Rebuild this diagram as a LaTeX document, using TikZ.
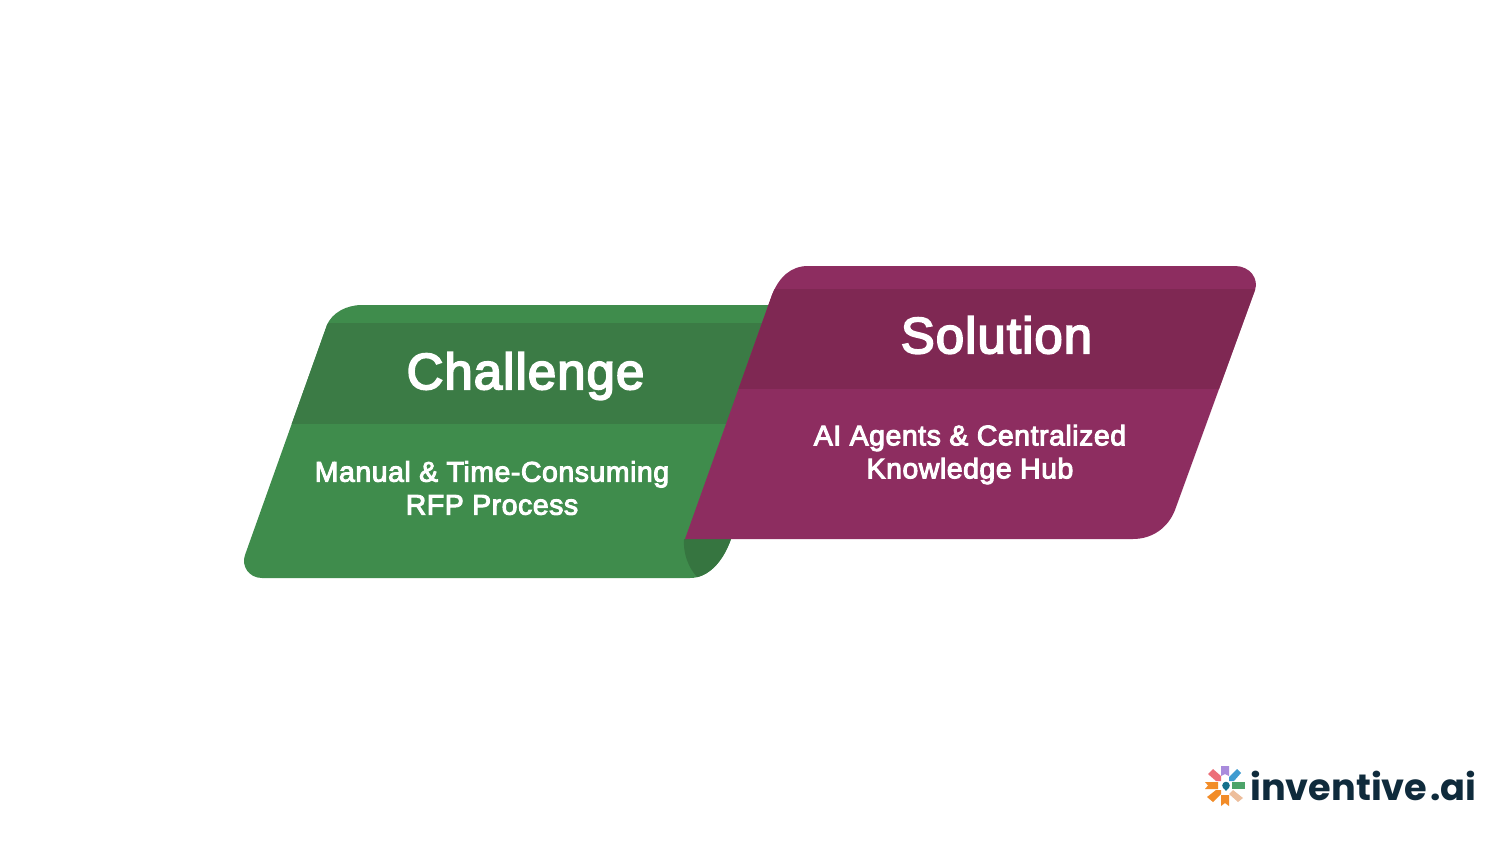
\documentclass[tikz,border=0pt]{standalone}
\usepackage{fontspec}
\setmainfont{Liberation Sans}[FakeBold=3.5,LetterSpace=2]
\newfontfamily\logofont{Poppins}[UprightFont=* SemiBold, BoldFont=* Bold]
\definecolor{gmain}{HTML}{3F8C4C}
\definecolor{gband}{HTML}{3B7B45}
\definecolor{gfold}{HTML}{367540}
\definecolor{pmain}{HTML}{8D2D60}
\definecolor{pband}{HTML}{7F2853}
\definecolor{lnavy}{HTML}{0F2B3C}
\definecolor{lpurple}{HTML}{A98BDC}
\definecolor{lpink}{HTML}{EC6F78}
\definecolor{lblue}{HTML}{3E9BD0}
\definecolor{lorange}{HTML}{F28C28}
\definecolor{lgreen}{HTML}{4CA46A}
\definecolor{lpeach}{HTML}{EDBE9C}
\definecolor{lteal}{HTML}{14708C}
\tikzset{
  x=1pt,y=-1pt,
  title/.style={text=white,font=\fontsize{51}{50}\selectfont,anchor=center,inner sep=0pt},
  body/.style={text=white,font=\fontsize{28.4}{33}\selectfont,anchor=center,align=center,inner sep=0pt},
}
\newcommand{\greenpath}{(362,305) -- (800,305) -- (731,539) .. controls (723,562) and (708,578) .. (690,578) -- (262,578) .. controls (249,578) and (241,566) .. (245,555) -- (327,325) .. controls (332,313) and (346,305) .. (362,305) -- cycle}
\newcommand{\purplepath}{(808,266) -- (1235,266) .. controls (1250,266) and (1259,279) .. (1255,290) -- (1175,510) .. controls (1168,528) and (1152,539) .. (1133,539) -- (685,539) -- (772,295) .. controls (779,277) and (791,266) .. (808,266) -- cycle}
\begin{document}
\begin{tikzpicture}
\useasboundingbox (0,0) rectangle (1500,844);
\fill[white] (0,0) rectangle (1500,844);
% green ribbon
\fill[gmain] \greenpath;
\begin{scope}
  \clip \greenpath;
  \fill[gband] (200,323) rectangle (800,424);
  \fill[gfold] (684,539) .. controls (683,553) and (688,567) .. (697,577) -- (740,590) -- (740,539) -- cycle;
\end{scope}
% purple ribbon
\fill[pmain] \purplepath;
\begin{scope}
  \clip \purplepath;
  \fill[pband] (700,289) rectangle (1300,389);
\end{scope}
\node[title] (challenge) at (525.5,376) {Challenge};
\node[body] (challengetext) at (492,488) {Manual \& Time-Consuming\\RFP Process};
\node[title] (solution) at (996.5,335) {Solution};
\node[body] (solutiontext) at (970,454.5) {AI Agents \& Centralized\\Knowledge Hub};
% logo
\fill[lpurple] (1221,766) -- (1229,766) -- (1229,776) -- (1225,774) -- (1221,776) -- cycle;
\fill[lpink] (1208,774) -- (1213,769) -- (1221,776) -- (1221,781) -- (1216,781) -- cycle;
\fill[lblue] (1229,777) -- (1237,769) -- (1241,773) -- (1234,781) -- (1229,781) -- cycle;
\fill[lorange] (1205,782) -- (1218,782) -- (1218,789) -- (1205,789) -- (1208,785.5) -- cycle;
\fill[lgreen] (1232,782) rectangle (1245,789);
\fill[lorange] (1207,797) -- (1216,790) -- (1221,790) -- (1221,794) -- (1213,802) -- cycle;
\fill[lorange] (1221,795) -- (1229,795) -- (1229,806) -- (1225,803) -- (1221,806) -- cycle;
\fill[lpeach] (1229,794) -- (1233,790) -- (1243,798) -- (1238,802) -- cycle;
\fill[lteal] (1226,785.5) circle (3.8);
\fill[lteal] (1222.6,787) -- (1226,791) -- (1229.4,787) -- cycle;
\node[text=lnavy,font=\fontsize{36.7}{40}\logofont\bfseries,anchor=center,inner sep=0pt] (logo) at (1363.5,786) {inventive\hspace{3pt}.ai};
\end{tikzpicture}
\end{document}
